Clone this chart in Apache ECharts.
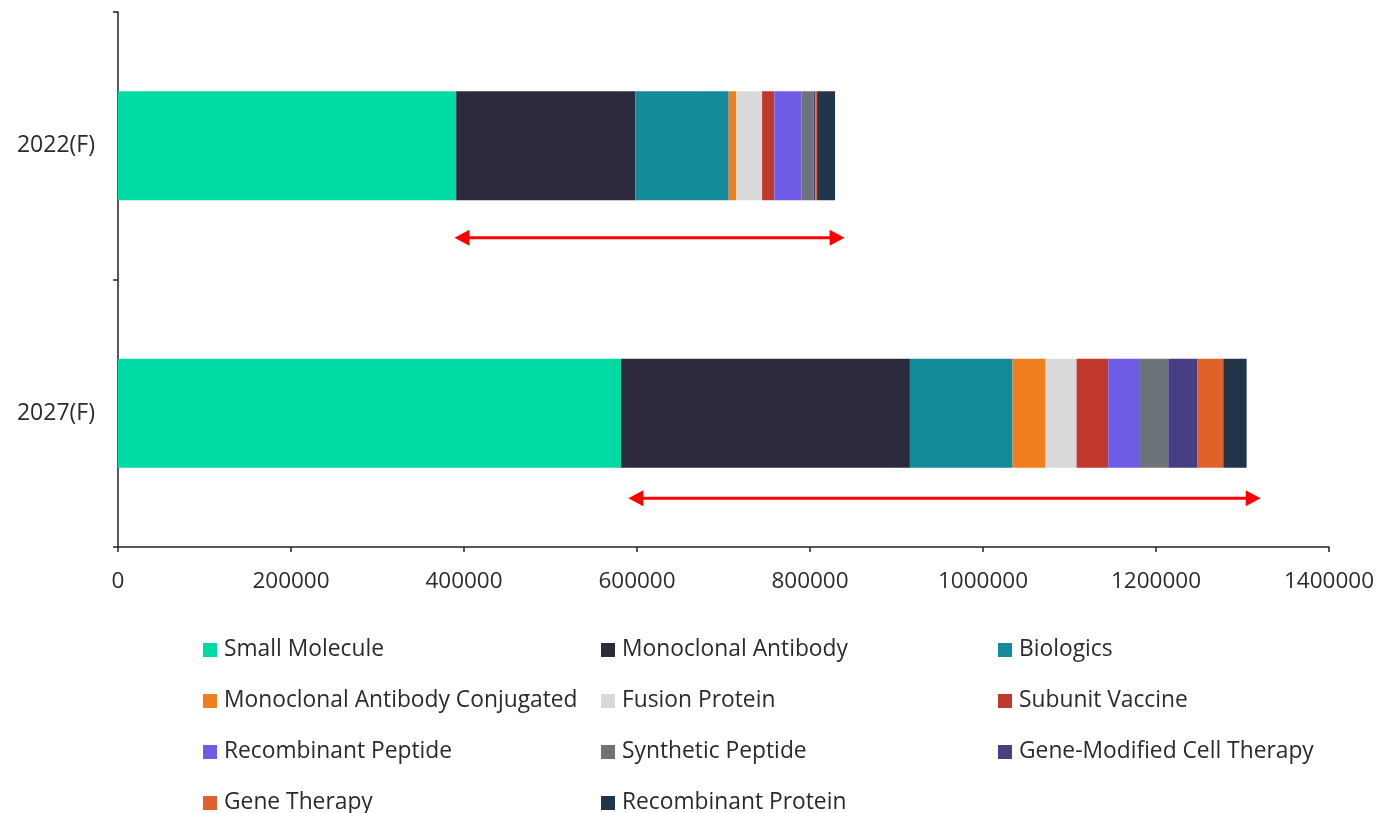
<!DOCTYPE html>
<html>
<head>
<meta charset="utf-8">
<script src="https://cdn.jsdelivr.net/npm/echarts@6/dist/echarts.min.js"></script>
<style>
  html, body { margin: 0; padding: 0; background: #fff; }
  #chart { width: 1381px; height: 813px; }
</style>
</head>
<body>
<div id="chart"></div>
<script>
// Market size by modality, forecast years
const years = ['2022(F)', '2027(F)'];

const smallMolecule        = [391000, 581500];
const monoclonalAntibody   = [207000, 334000];
const biologics            = [108000, 118700];
const mabConjugated        = [8900, 38200];
const fusionProtein        = [29700, 35800];
const subunitVaccine       = [14200, 36600];
const recombinantPeptide   = [31200, 35500];
const syntheticPeptide     = [14200, 33900];
const geneModifiedCell     = [2000, 33900];
const geneTherapy          = [2000, 29700];
const recombinantProtein   = [20800, 27000];

// Double-headed growth arrows (start / end values on the x axis)
const arrowStart = [389000, 590000];
const arrowEnd   = [840000, 1321000];

const xTicks = [0, 200000, 400000, 600000, 800000, 1000000, 1200000, 1400000];

const seriesDefs = [
  ['Small Molecule', smallMolecule, '#00DBA6'],
  ['Monoclonal Antibody', monoclonalAntibody, '#2E2A3E'],
  ['Biologics', biologics, '#138B9A'],
  ['Monoclonal Antibody Conjugated', mabConjugated, '#F07F20'],
  ['Fusion Protein', fusionProtein, '#D9D9D9'],
  ['Subunit Vaccine', subunitVaccine, '#C0392B'],
  ['Recombinant Peptide', recombinantPeptide, '#6F5CE6'],
  ['Synthetic Peptide', syntheticPeptide, '#6B747B'],
  ['Gene-Modified Cell Therapy', geneModifiedCell, '#463F84'],
  ['Gene Therapy', geneTherapy, '#E0622A'],
  ['Recombinant Protein', recombinantProtein, '#22364B']
];

const chart = echarts.init(document.getElementById('chart'));

// Legend laid out as a three-column grid, one entry per legend component
const legendCols = [203, 601, 998];
const legendRows = [650, 701, 752, 803];
const legends = seriesDefs.map(([name], i) => ({
  left: legendCols[i % 3],
  top: legendRows[Math.floor(i / 3)] - 12,
  itemWidth: 14, itemHeight: 14, itemGap: 0,
  icon: 'rect', selectedMode: false, padding: 0,
  textStyle: {
    fontFamily: 'Open Sans', fontSize: 22.8, color: '#2b2b2b',
    lineHeight: 24, padding: [0, 0, 0, 2]
  },
  data: [name]
}));

chart.setOption({
  animation: false,
  backgroundColor: '#fff',
  grid: { left: 118, right: 52, top: 12, bottom: 266 },
  legend: legends,
  xAxis: {
    type: 'value', min: 0, max: 1400000, interval: 200000,
    axisLine: { show: true, lineStyle: { color: '#222', width: 1.5 } },
    axisTick: { show: true, length: 5, lineStyle: { color: '#222', width: 1.5 } },
    splitLine: { show: false },
    axisLabel: {
      margin: 23, fontFamily: 'Open Sans', fontSize: 22.5, color: '#2b2b2b',
      formatter: v => xTicks.includes(v) ? String(v) : ''
    }
  },
  yAxis: {
    type: 'category', inverse: true, data: years,
    axisLine: { show: true, lineStyle: { color: '#222', width: 1.5 } },
    axisTick: { show: true, length: 5, lineStyle: { color: '#222', width: 1.5 } },
    axisLabel: { margin: 23, fontFamily: 'Open Sans', fontSize: 23, color: '#2b2b2b' }
  },
  series: seriesDefs.map(([name, values, color]) => ({
    name: name, type: 'bar', stack: 'total', barWidth: 109,
    itemStyle: { color: color },
    data: values
  }))
});

// Growth arrows drawn on top of the chart
function arrowGraphic(x0, x1, y) {
  const head = 15, half = 8, red = '#FF0000';
  return [
    { type: 'line', shape: { x1: x0 + head - 1, y1: y, x2: x1 - head + 1, y2: y },
      style: { stroke: red, lineWidth: 3 } },
    { type: 'polygon', shape: { points: [[x0, y], [x0 + head, y - half], [x0 + head, y + half]] },
      style: { fill: red } },
    { type: 'polygon', shape: { points: [[x1, y], [x1 - head, y - half], [x1 - head, y + half]] },
      style: { fill: red } }
  ];
}
const arrowDy = [92, 85];
let elements = [];
years.forEach((yr, i) => {
  const p0 = chart.convertToPixel({ gridIndex: 0 }, [arrowStart[i], yr]);
  const p1 = chart.convertToPixel({ gridIndex: 0 }, [arrowEnd[i], yr]);
  elements = elements.concat(arrowGraphic(p0[0], p1[0], p0[1] + arrowDy[i]));
});
chart.setOption({ graphic: elements });
</script>
</body>
</html>
